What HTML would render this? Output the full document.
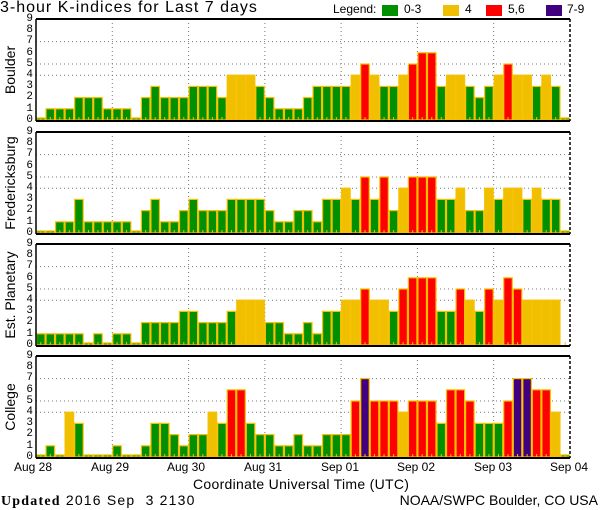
<!DOCTYPE html>
<html><head><meta charset="utf-8">
<style>
body{margin:0;background:#fff;}
#wrap{position:relative;width:600px;height:510px;overflow:hidden;font-family:"Liberation Sans",sans-serif;color:#000;}
.t{position:absolute;white-space:nowrap;}
.yl{position:absolute;left:20px;width:13px;text-align:right;font-family:"Liberation Mono",monospace;font-size:11px;line-height:11.2px;}
.pn{position:absolute;font-size:14px;transform:rotate(-90deg);transform-origin:center center;text-align:center;width:120px;left:-50px;}
.lb{position:absolute;top:5px;width:16px;height:11px;}
svg{position:absolute;left:0;top:0;}
</style></head><body><div id="wrap">
<svg id="s" width="600" height="510"></svg>
<div class="t" style="left:0;top:-1px;font-size:16px;letter-spacing:1px;">3-hour K-indices for Last 7 days</div>
<div class="t" style="left:333px;top:2px;font-size:12px;">Legend:</div>
<div class="lb" style="left:382px;background:#009000"></div><div class="t" style="left:404px;top:2px;font-size:12px;">0-3</div>
<div class="lb" style="left:443px;background:#f0c000"></div><div class="t" style="left:465px;top:2px;font-size:12px;">4</div>
<div class="lb" style="left:486px;background:#ff0000"></div><div class="t" style="left:508px;top:2px;font-size:12px;">5,6</div>
<div class="lb" style="left:546px;background:#400080"></div><div class="t" style="left:567px;top:2px;font-size:12px;">7-9</div>

<div class="yl" style="top:14px">9<br>8<br>7<br>6<br>5<br>4<br>3<br>2<br>1<br>0</div>
<div class="yl" style="top:127px">9<br>8<br>7<br>6<br>5<br>4<br>3<br>2<br>1<br>0</div>
<div class="yl" style="top:239px">9<br>8<br>7<br>6<br>5<br>4<br>3<br>2<br>1<br>0</div>
<div class="yl" style="top:351px">9<br>8<br>7<br>6<br>5<br>4<br>3<br>2<br>1<br>0</div>

<div class="pn" style="top:62px;">Boulder</div>
<div class="pn" style="top:175px;">Fredericksburg</div>
<div class="pn" style="top:287px;">Est. Planetary</div>
<div class="pn" style="top:399px;">College</div>

<div class="t" style="left:14px;top:460px;font-size:12px;">Aug 28</div>
<div class="t" style="left:91px;top:460px;font-size:12px;">Aug 29</div>
<div class="t" style="left:167px;top:460px;font-size:12px;">Aug 30</div>
<div class="t" style="left:244px;top:460px;font-size:12px;">Aug 31</div>
<div class="t" style="left:321px;top:460px;font-size:12px;">Sep 01</div>
<div class="t" style="left:397px;top:460px;font-size:12px;">Sep 02</div>
<div class="t" style="left:474px;top:460px;font-size:12px;">Sep 03</div>
<div class="t" style="left:550px;top:460px;font-size:12px;">Sep 04</div>
<div class="t" style="left:193px;top:476px;font-size:14px;letter-spacing:0.3px;">Coordinate Universal Time (UTC)</div>
<div class="t" style="left:1px;top:492px;font-size:14px;letter-spacing:1.2px;"><b style="font-family:'Liberation Serif',serif;">Updated</b> 2016 Sep &nbsp;3 2130</div>
<div class="t" style="right:2px;top:492px;font-size:14px;">NOAA/SWPC Boulder, CO USA</div>
</div>
<script>
var data=[
[0,1,1,1,2,2,2,1,1,1,0,2,3,2,2,2,3,3,3,2,4,4,4,3,2,1,1,1,2,3,3,3,3,4,5,4,3,3,4,5,6,6,3,4,4,3,2,3,4,5,4,4,3,4,3,0],
[0,0,1,1,3,1,1,1,1,1,0,2,3,1,1,2,3,2,2,2,3,3,3,3,2,1,1,2,2,1,3,3,4,3,5,3,5,2,4,5,5,5,3,3,4,2,2,4,3,4,4,3,4,3,3,0],
[1,1,1,1,1,0,1,0,1,1,0,2,2,2,2,3,3,2,2,2,3,4,4,4,2,2,1,1,2,1,3,3,4,4,5,4,4,3,5,6,6,6,3,3,5,4,3,5,4,6,5,4,4,4,4,-1],
[0,1,0,4,3,0,0,0,1,0,0,1,3,3,2,1,2,2,4,3,6,6,3,2,2,1,1,2,1,1,2,2,2,5,7,5,5,5,4,5,5,5,3,6,6,5,3,3,3,5,7,7,6,6,4,0]];
var bots=[121,234,346,458],tops=[19,132,244,356];
var L=36,R=570,bw=(R-L)/56,u=11.2,h='';
function col(v){return v<=3?'#009000':v==4?'#f0c000':v<=6?'#ff0000':'#400080';}
for(var p=0;p<4;p++){
 var b=bots[p],t=tops[p],base=b-1;
 for(var d=1;d<7;d++){var x=L+d*bw*8;h+='<line x1="'+x+'" y1="'+t+'" x2="'+x+'" y2="'+b+'" stroke="#777" stroke-dasharray="1,3"/>';}
 [4,5,7].forEach(function(k){var y=base-k*u;h+='<line x1="'+L+'" y1="'+y+'" x2="'+R+'" y2="'+y+'" stroke="#777" stroke-dasharray="1,3"/>';});
 for(var i=0;i<56;i++){var v=data[p][i];if(v<0)continue;var x=L+i*bw;var y=v==0?base-2:base-v*u;
  h+='<rect x="'+(x+0.5)+'" y="'+y+'" width="'+(bw-1)+'" height="'+(base-y)+'" fill="'+col(v)+'" stroke="#f8c000" stroke-width="1.2"/>';}
 for(var i=0;i<56;i++){var x=L+i*bw+bw/2;h+='<line x1="'+x+'" y1="'+(base-3)+'" x2="'+x+'" y2="'+base+'" stroke="#f8c000"/>';}
 h+='<line x1="'+L+'" y1="'+t+'" x2="'+R+'" y2="'+t+'" stroke="#000" stroke-width="2"/>';
 h+='<line x1="'+L+'" y1="'+b+'" x2="'+R+'" y2="'+b+'" stroke="#000" stroke-width="2"/>';
 h+='<line x1="'+L+'" y1="'+t+'" x2="'+L+'" y2="'+b+'" stroke="#000" stroke-width="1.5"/>';
 h+='<line x1="'+R+'" y1="'+t+'" x2="'+R+'" y2="'+b+'" stroke="#000" stroke-width="1.5" stroke-dasharray="3,2"/>';
}
document.getElementById('s').innerHTML=h;
</script>
</body></html>
